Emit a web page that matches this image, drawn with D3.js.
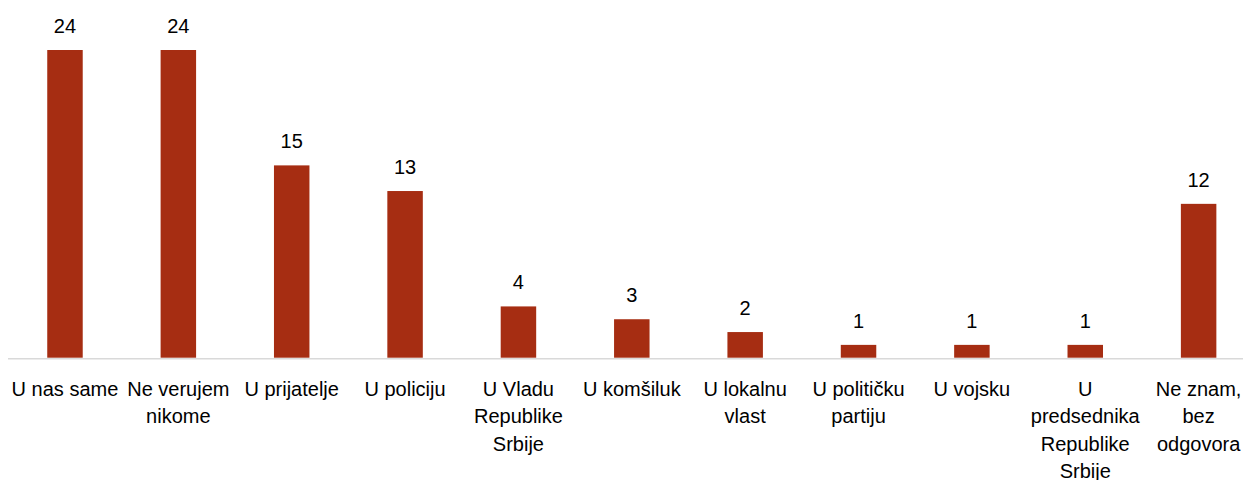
<!DOCTYPE html>
<html>
<head>
<meta charset="utf-8">
<script src="https://cdn.jsdelivr.net/npm/d3@7"></script>
<style>
  body { margin: 0; background: #fff; }
  svg { display: block; font-family: "Liberation Sans", Arial, sans-serif; }
</style>
</head>
<body>
<div id="chart"></div>
<script>
// categories (lines of each label) and values
const categories = [
  ["U nas same"],
  ["Ne verujem", "nikome"],
  ["U prijatelje"],
  ["U policiju"],
  ["U Vladu", "Republike", "Srbije"],
  ["U komšiluk"],
  ["U lokalnu", "vlast"],
  ["U političku", "partiju"],
  ["U vojsku"],
  ["U", "predsednika", "Republike", "Srbije"],
  ["Ne znam,", "bez", "odgovora"]
];
const values = [24, 24, 15, 13, 4, 3, 2, 1, 1, 1, 12];

const data = categories.map((c, i) => ({ key: c.join(" "), lines: c, value: values[i] }));

const width = 1243, height = 480;
const baseY = 357.7;

const svg = d3.select("#chart")
  .append("svg")
  .attr("width", width)
  .attr("height", height);

// Scales
const x = d3.scaleBand()
  .domain(data.map(d => d.key))
  .range([8.3, 1255.3])
  .paddingInner(0.687)
  .paddingOuter(0.3435);

const y = d3.scaleLinear()
  .domain([0, 24])
  .range([baseY, 50]);

// Bars
svg.selectAll("rect.bar")
  .data(data)
  .enter()
  .append("rect")
  .attr("class", "bar")
  .attr("x", d => x(d.key))
  .attr("y", d => y(d.value))
  .attr("width", x.bandwidth())
  .attr("height", d => y(0) - y(d.value))
  .attr("fill", "#a62d12");

// Axis line
svg.append("line")
  .attr("x1", 8)
  .attr("x2", width)
  .attr("y1", baseY + 1)
  .attr("y2", baseY + 1)
  .attr("stroke", "#d9d9d9")
  .attr("stroke-width", 1.5);

// Value labels
svg.selectAll("text.val")
  .data(data)
  .enter()
  .append("text")
  .attr("class", "val")
  .attr("x", d => x(d.key) + x.bandwidth() / 2)
  .attr("y", d => y(d.value) - 17)
  .attr("text-anchor", "middle")
  .attr("font-size", 20)
  .attr("fill", "#000")
  .text(d => d.value);

// Category labels
const lab = svg.selectAll("text.cat")
  .data(data)
  .enter()
  .append("text")
  .attr("class", "cat")
  .attr("text-anchor", "middle")
  .attr("font-size", 20)
  .attr("fill", "#000");

lab.selectAll("tspan")
  .data(d => d.lines.map(l => ({ l, cx: x(d.key) + x.bandwidth() / 2 })))
  .enter()
  .append("tspan")
  .attr("x", d => d.cx)
  .attr("y", (d, i) => 396 + i * 27.3)
  .text(d => d.l);
</script>
</body>
</html>
